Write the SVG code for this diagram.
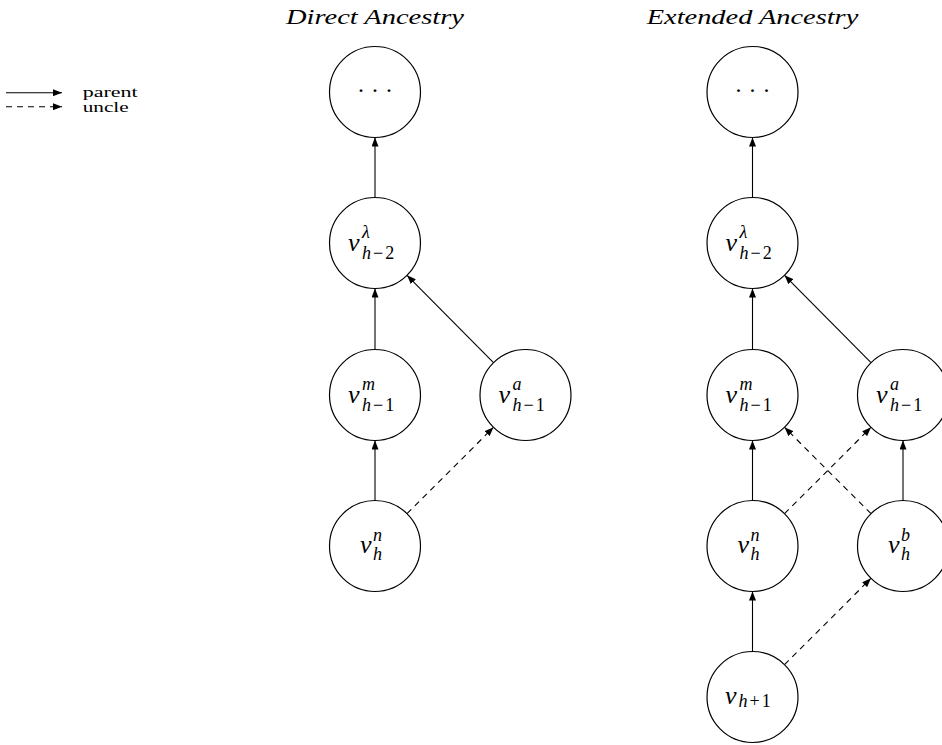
<svg xmlns="http://www.w3.org/2000/svg" width="942" height="745" viewBox="0 0 942 745">
<defs>
<marker id="ah" markerUnits="userSpaceOnUse" markerWidth="9" markerHeight="7" refX="9" refY="3.5" orient="auto">
<path d="M0,0 L9,3.5 L0,7 z" fill="#000"/>
</marker>
<style>
.nd{fill:#fff;stroke:#000;stroke-width:1.2}
.e{stroke:#000;stroke-width:1.1;fill:none;marker-end:url(#ah)}
.d{stroke-dasharray:6 5}
.v{font-family:"Liberation Serif",serif;font-style:italic;font-size:26px;fill:#000}
.s{font-size:18px}
.u{font-style:normal}
.t{font-family:"Liberation Serif",serif;font-style:italic;font-size:21px;fill:#000}
.lg{font-family:"Liberation Serif",serif;font-size:15px;fill:#000}
.dots{font-family:"Liberation Serif",serif;font-size:24px;fill:#000;text-anchor:middle}
</style>
</defs>
<rect width="942" height="745" fill="#fff"/>

<g id="legend">
<line class="e" x1="6" y1="92.7" x2="62" y2="92.7"/>
<line class="e d" x1="6" y1="106.7" x2="62" y2="106.7"/>
<text class="lg" x="82.7" y="96.5" textLength="55" lengthAdjust="spacingAndGlyphs">parent</text>
<text class="lg" x="82.7" y="111.5" textLength="46" lengthAdjust="spacingAndGlyphs">uncle</text>
</g>

<g id="titles">
<text class="t" x="286" y="24" textLength="178" lengthAdjust="spacingAndGlyphs">Direct Ancestry</text>
<text class="t" x="646.7" y="24" textLength="211.6" lengthAdjust="spacingAndGlyphs">Extended Ancestry</text>
</g>

<g id="connectors">
<line class="e" x1="375" y1="197.5" x2="375" y2="137.5"/>
<line class="e" x1="375" y1="349.5" x2="375" y2="288.5"/>
<line class="e" x1="493.5" y1="362.7" x2="407" y2="275.3"/>
<line class="e" x1="375" y1="500.5" x2="375" y2="440.5"/>
<line class="e d" x1="407" y1="513.7" x2="493.5" y2="427.3"/>

<line class="e" x1="752.5" y1="197.5" x2="752.5" y2="137.5"/>
<line class="e" x1="752.5" y1="349.5" x2="752.5" y2="288.5"/>
<line class="e" x1="871" y1="362.7" x2="784.5" y2="275.3"/>
<line class="e" x1="752.5" y1="500.5" x2="752.5" y2="440.5"/>
<line class="e d" x1="784.5" y1="513.7" x2="871" y2="427.3"/>
<line class="e" x1="903" y1="500.5" x2="903" y2="440.5"/>
<line class="e d" x1="871" y1="513.7" x2="784.5" y2="427.3"/>
<line class="e" x1="752.5" y1="651.5" x2="752.5" y2="591.5"/>
<line class="e d" x1="784.5" y1="664.7" x2="871" y2="578.3"/>
</g>

<g id="d-top">
<circle class="nd" cx="375" cy="92" r="45.5"/>
<text class="dots" x="375" y="98">· · ·</text>
</g>
<g id="d-lambda">
<circle class="nd" cx="375" cy="243" r="45.5"/>
<text class="v" x="348" y="251">v<tspan class="s" x="362" y="238">λ</tspan><tspan class="s" x="362" y="259">h<tspan class="u" dx="2">−</tspan><tspan class="u" dx="2">2</tspan></tspan></text>
</g>
<g id="d-m">
<circle class="nd" cx="375" cy="395" r="45.5"/>
<text class="v" x="348" y="403">v<tspan class="s" x="362" y="390">m</tspan><tspan class="s" x="362" y="411">h<tspan class="u" dx="2">−</tspan><tspan class="u" dx="2">1</tspan></tspan></text>
</g>
<g id="d-a">
<circle class="nd" cx="525.5" cy="395" r="45.5"/>
<text class="v" x="498.5" y="403">v<tspan class="s" x="512.5" y="390">a</tspan><tspan class="s" x="512.5" y="411">h<tspan class="u" dx="2">−</tspan><tspan class="u" dx="2">1</tspan></tspan></text>
</g>
<g id="d-n">
<circle class="nd" cx="375" cy="546" r="45.5"/>
<text class="v" x="360" y="553">v<tspan class="s" x="373" y="541">n</tspan><tspan class="s" x="373" y="560">h</tspan></text>
</g>

<g id="x-top">
<circle class="nd" cx="752.5" cy="92" r="45.5"/>
<text class="dots" x="752.5" y="98">· · ·</text>
</g>
<g id="x-lambda">
<circle class="nd" cx="752.5" cy="243" r="45.5"/>
<text class="v" x="725.5" y="251">v<tspan class="s" x="739.5" y="238">λ</tspan><tspan class="s" x="739.5" y="259">h<tspan class="u" dx="2">−</tspan><tspan class="u" dx="2">2</tspan></tspan></text>
</g>
<g id="x-m">
<circle class="nd" cx="752.5" cy="395" r="45.5"/>
<text class="v" x="725.5" y="403">v<tspan class="s" x="739.5" y="390">m</tspan><tspan class="s" x="739.5" y="411">h<tspan class="u" dx="2">−</tspan><tspan class="u" dx="2">1</tspan></tspan></text>
</g>
<g id="x-a">
<circle class="nd" cx="903" cy="395" r="45.5"/>
<text class="v" x="876" y="403">v<tspan class="s" x="890" y="390">a</tspan><tspan class="s" x="890" y="411">h<tspan class="u" dx="2">−</tspan><tspan class="u" dx="2">1</tspan></tspan></text>
</g>
<g id="x-n">
<circle class="nd" cx="752.5" cy="546" r="45.5"/>
<text class="v" x="737.5" y="553">v<tspan class="s" x="750.5" y="541">n</tspan><tspan class="s" x="750.5" y="560">h</tspan></text>
</g>
<g id="x-b">
<circle class="nd" cx="903" cy="546" r="45.5"/>
<text class="v" x="888" y="553">v<tspan class="s" x="901" y="541">b</tspan><tspan class="s" x="901" y="560">h</tspan></text>
</g>
<g id="x-h1">
<circle class="nd" cx="752.5" cy="697" r="45.5"/>
<text class="v" x="725" y="704">v<tspan class="s" x="738.5" y="707">h<tspan class="u" dx="2">+</tspan><tspan class="u" dx="2">1</tspan></tspan></text>
</g>
</svg>
